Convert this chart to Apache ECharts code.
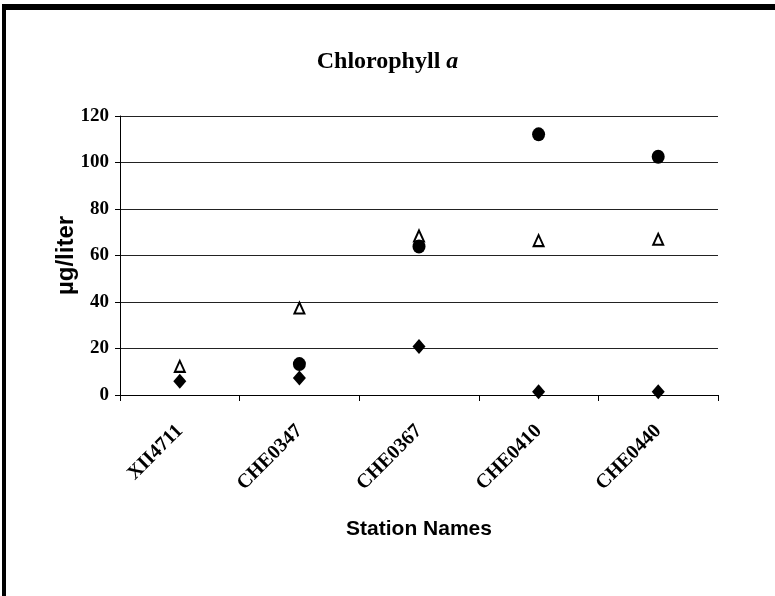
<!DOCTYPE html>
<html>
<head>
<meta charset="utf-8">
<script src="https://cdn.jsdelivr.net/npm/echarts@6/dist/echarts.min.js"></script>
<style>
  html, body { margin: 0; padding: 0; background: #fff; }
  #main { width: 775px; height: 596px; }
</style>
</head>
<body>
<div id="main"></div>
<script>
// station names along the x axis
var stations = ['XII4711', 'CHE0347', 'CHE0367', 'CHE0410', 'CHE0440'];
// three sample sets (µg/liter)
var circleVals = [null, 13.3, 63.9, 112.1, 102.5];
var triangleVals = [12.3, 37.4, 68.4, 66.4, 67.0];
var diamondVals = [5.9, 7.3, 20.9, 1.4, 1.4];
var yTicks = [0, 20, 40, 60, 80, 100, 120];

var serif = '"Liberation Serif", "Times New Roman", serif';
var sans = '"Liberation Sans", Arial, sans-serif';

var chart = echarts.init(document.getElementById('main'), null, { renderer: 'canvas' });

var option = {
  backgroundColor: '#fff',
  animation: false,
  title: {
    text: '{n|Chlorophyll }{i|a}',
    left: 'center',
    top: 45,
    textStyle: {
      rich: {
        n: { fontFamily: serif, fontWeight: 'bold', fontSize: 24, color: '#000' },
        i: { fontFamily: serif, fontWeight: 'bold', fontStyle: 'italic', fontSize: 24, color: '#000' }
      }
    }
  },
  graphic: [
    { type: 'line', shape: { x1: 4, y1: 4, x2: 4, y2: 600 }, style: { stroke: '#000', lineWidth: 4 } },
    { type: 'line', shape: { x1: 2, y1: 7, x2: 775, y2: 7 }, style: { stroke: '#000', lineWidth: 6 } }
  ],
  grid: { left: 120, right: 57, top: 116, bottom: 201 },
  xAxis: {
    type: 'category',
    data: stations,
    boundaryGap: true,
    name: 'Station Names',
    nameLocation: 'middle',
    nameMoveOverlap: false,
    nameGap: 124,
    nameTextStyle: { fontFamily: sans, fontWeight: 'bold', fontSize: 21, color: '#000', letterSpacing: -1 },
    axisLine: { lineStyle: { color: '#000', width: 1 } },
    axisTick: { show: true, interval: 0, length: 6, lineStyle: { color: '#000' } },
    axisLabel: {
      interval: 0,
      rotate: 45,
      margin: 33,
      fontFamily: serif,
      fontWeight: 'bold',
      fontSize: 20,
      color: '#000'
    },
    splitLine: { show: false }
  },
  yAxis: {
    type: 'value',
    min: yTicks[0],
    max: yTicks[yTicks.length - 1],
    interval: 20,
    name: 'µg/liter',
    nameLocation: 'middle',
    nameMoveOverlap: false,
    nameGap: 42,
    nameTextStyle: { fontFamily: sans, fontWeight: 'bold', fontSize: 24, color: '#000' },
    axisLine: { show: true, lineStyle: { color: '#000', width: 1 } },
    axisTick: { show: true, length: 5, inside: false, lineStyle: { color: '#000' } },
    axisLabel: {
      margin: 11,
      fontFamily: serif,
      fontWeight: 'bold',
      fontSize: 19,
      color: '#000'
    },
    splitLine: { show: true, lineStyle: { color: '#222', width: 1 } }
  },
  series: [
    {
      name: 'triangle',
      type: 'scatter',
      data: triangleVals,
      symbol: 'triangle',
      symbolSize: [10, 11],
      itemStyle: { color: '#fff', borderColor: '#000', borderWidth: 2, opacity: 1 }
    },
    {
      name: 'circle',
      type: 'scatter',
      data: circleVals,
      symbol: 'circle',
      symbolSize: [13, 14],
      itemStyle: { color: '#000', opacity: 1 }
    },
    {
      name: 'diamond',
      type: 'scatter',
      data: diamondVals,
      symbol: 'diamond',
      symbolSize: [13, 15],
      itemStyle: { color: '#000', opacity: 1 }
    }
  ]
};

chart.setOption(option);
</script>
</body>
</html>
